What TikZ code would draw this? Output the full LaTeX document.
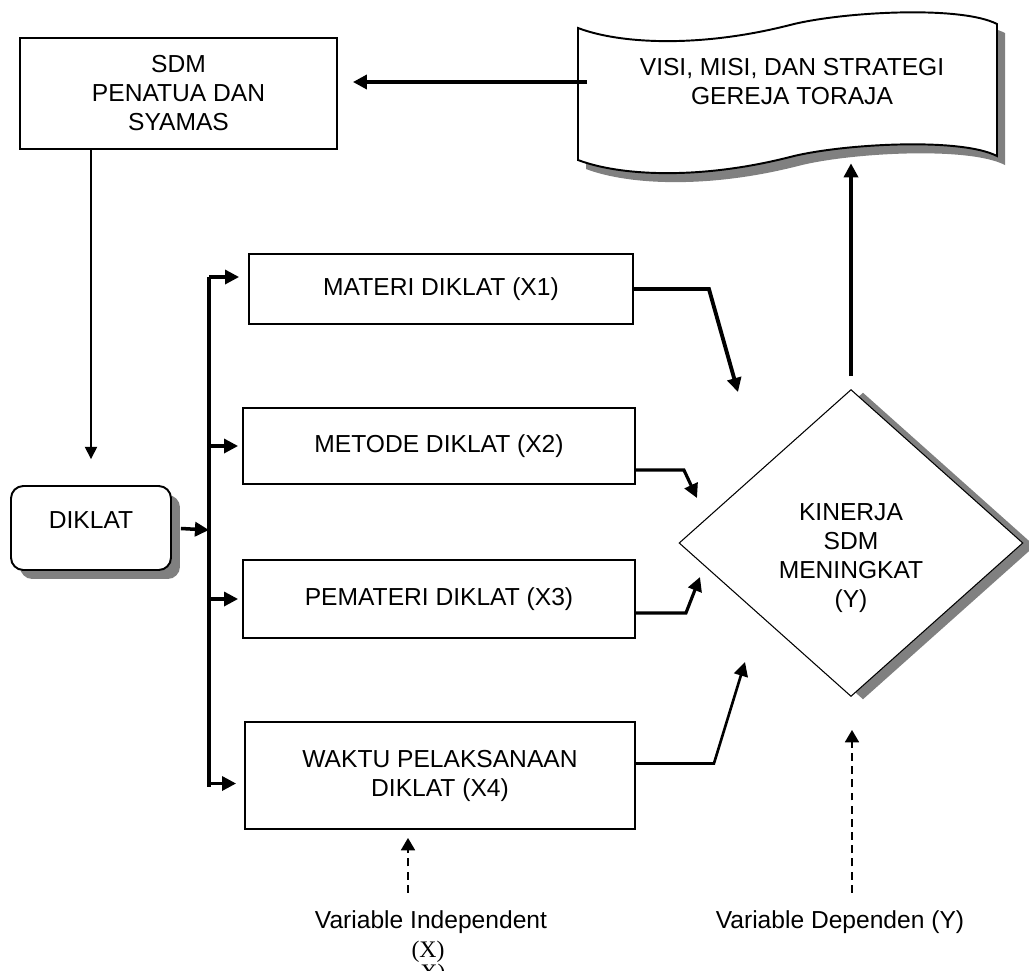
\documentclass[tikz,border=0pt]{standalone}
\usepackage{fontspec}
\setmainfont{Liberation Sans}
\newfontfamily\timesfont{Liberation Serif}
\usetikzlibrary{arrows.meta, positioning, calc, shapes.geometric, shadows}

% outline of the wavy document shape
\newcommand{\visipath}{(578,28) .. controls (620,44) and (700,48) .. (790,25)
  .. controls (840,12) and (960,5) .. (997,24) -- (997,156)
  .. controls (960,137) and (840,144) .. (790,157)
  .. controls (700,180) and (620,176) .. (578,160) -- cycle}

\begin{document}
\begin{tikzpicture}[x=0.02cm, y=-0.02cm, >={Triangle[length=8pt,width=8pt]},
  every node/.style={font=\fontsize{14}{16.5}\selectfont, align=center},
  box/.style={draw, line width=1.1pt, inner sep=2pt},
  grayshadow/.style 2 args={drop shadow={shadow xshift=#1, shadow yshift=#2, fill=black!50, opacity=1}},
  flow/.style={->, line width=2.2pt},
  link/.style={->, line width=1.8pt},
  dasharrow/.style={->, line width=0.9pt, dash pattern=on 4.5pt off 3pt, >={Triangle[length=7pt,width=8pt]}}]

\useasboundingbox (0,0) rectangle (1029,971);

% Vision document
\begin{scope}[shift={(8,9)}]
  \fill[black!50] \visipath;
\end{scope}
\draw[line width=1.1pt, fill=white] \visipath;
\node[minimum width=8.38cm, minimum height=3.24cm] (visi) at (792,82) {VISI, MISI, DAN STRATEGI\\GEREJA TORAJA};

% Boxes
\node[box, minimum width=6.34cm, minimum height=2.22cm] (sdm) at (178.5,93.5) {SDM\\PENATUA DAN\\SYAMAS};
\node[box, fill=white, rounded corners=7pt, minimum width=3.2cm, minimum height=1.68cm, text height=6pt, text depth=6pt, grayshadow={0.18cm}{-0.18cm}] (diklat) at (91,528) {DIKLAT};

\node[box, minimum width=7.68cm, minimum height=1.4cm] (materi) at (441,289) {MATERI DIKLAT (X1)};
\node[box, minimum width=7.84cm, minimum height=1.52cm] (metode) at (439,446) {METODE DIKLAT (X2)};
\node[box, minimum width=7.84cm, minimum height=1.56cm] (pemateri) at (439,599) {PEMATERI DIKLAT (X3)};
\node[box, minimum width=7.8cm, minimum height=2.14cm] (waktu) at (440,775.5) {WAKTU PELAKSANAAN\\DIKLAT (X4)};

% Decision diamond
\node[diamond, draw, line width=0.6pt, fill=white, minimum width=6.88cm, minimum height=6.14cm, inner sep=0pt, grayshadow={0.24cm}{-0.06cm}] (kinerja) at (851,543) {};
\node (kinerjalbl) at (851,558) {KINERJA\\SDM\\MENINGKAT\\(Y)};

% Variable labels
\node[inner sep=0pt] (indep) at (431,922) {Variable Independent};
\node[inner sep=0pt, font=\timesfont\fontsize{13.5}{16}\selectfont] (indepx) at (428,952) {(X)};
\node[inner sep=0pt, font=\timesfont\fontsize{13.5}{16}\selectfont] (indepcut) at (433,975) {X)};
\node[inner sep=0pt] (dep) at (840,922) {Variable Dependen (Y)};

% Connections: vision -> SDM -> DIKLAT
\draw[flow, shorten <=-0.1cm, shorten >=0.3cm] (visi.west) -- (sdm.east |- visi.west);
\draw[->, line width=0.9pt, >={Triangle[length=7pt,width=7pt]}, shorten >=0.52cm] (sdm.south -| diklat.north) -- (diklat.north);

% Connections: DIKLAT -> bus -> X boxes
\coordinate (bus) at (209,530);
\coordinate (bustop) at (209,277);
\coordinate (busbot) at (209,787);
\draw[flow, line width=2pt, shorten <=0.18cm] (diklat.east) -- (bus);
\draw[line width=2.2pt] (bustop) -- (busbot);
\draw[link, shorten >=0.18cm] (bustop) -- (bustop -| materi.west);
\foreach \b in {metode,pemateri} {
  \draw[link, shorten >=0.08cm] (bus |- \b.west) -- (\b.west);
}
\draw[link, shorten >=0.16cm] ($(waktu.west -| bus)+(0,8)$) -- ($(waktu.west)+(0,8)$);

% Connections: X boxes -> KINERJA
\coordinate (in1) at (738,392);
\coordinate (in2) at (697,498);
\coordinate (in3) at (700,577);
\coordinate (in4) at (745,662);
\draw[flow] (materi.east) -- ++(75,0) -- (in1);
\draw[link] ($(metode.east)+(0,24)$) -- ++(48,0) -- (in2);
\draw[link] ($(pemateri.east)+(0,14)$) -- ++(50,0) -- (in3);
\draw[->, line width=1.5pt] ($(waktu.east)+(0,-12)$) -- ++(78,0) -- (in4);

% Connection: KINERJA -> vision
\draw[flow, line width=2pt, shorten <=0.26cm] (kinerja.north) -- (kinerja.north |- visi.south);

% Dashed pointers from the variable labels
\coordinate (indeptop) at ($(indep.north)+(-23,0)$);
\coordinate (deptop) at ($(dep.north)+(12,0)$);
\draw[dasharrow, shorten <=0.35cm, shorten >=0.16cm] (indeptop) -- (indeptop |- waktu.south);
\draw[dasharrow, shorten <=0.35cm, shorten >=0.66cm] (deptop) -- (deptop |- kinerja.south);

\end{tikzpicture}
\end{document}
